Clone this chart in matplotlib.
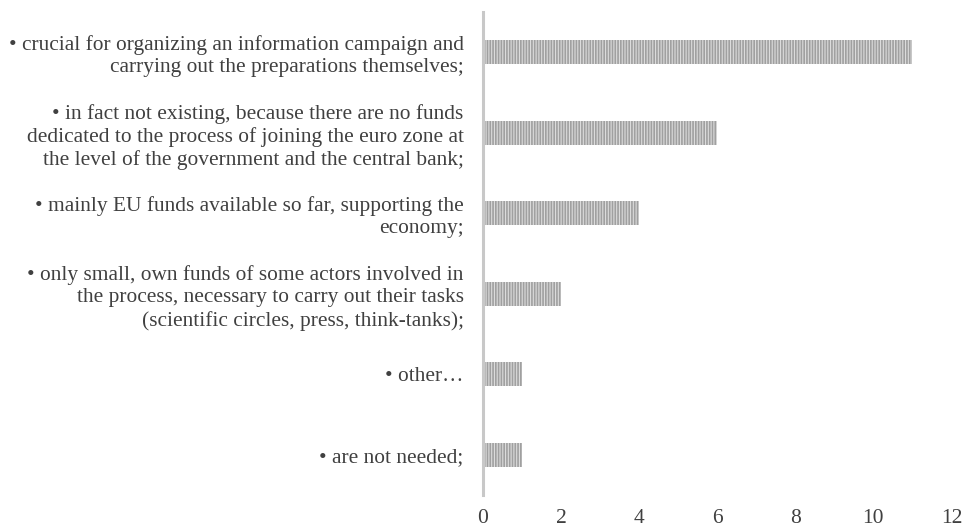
import matplotlib
matplotlib.use('Agg')
import matplotlib.pyplot as plt
import numpy as np

# answers, listed top to bottom as in the chart
categories = [
    '• crucial for organizing an information campaign and\ncarrying out the preparations themselves;',
    '• in fact not existing, because there are no funds\ndedicated to the process of joining the euro zone at\nthe level of the government and the central bank;',
    '• mainly EU funds available so far, supporting the\neconomy;',
    '• only small, own funds of some actors involved in\nthe process, necessary to carry out their tasks\n(scientific circles, press, think-tanks);',
    '• other…',
    '• are not needed;',
]
counts = [11, 6, 4, 2, 1, 1]
xticks = [0, 2, 4, 6, 8, 10, 12]

plt.rcParams['font.family'] = ['Liberation Serif', 'DejaVu Serif']
plt.rcParams['hatch.linewidth'] = 1.2
plt.rcParams['hatch.color'] = '#a0a0a0'

fig = plt.figure(figsize=(9.63, 5.29), dpi=100)
ax = fig.add_axes([0.5016, 0.0643, 0.988 - 0.5016, 0.977 - 0.0643])

y = np.arange(len(categories))
ax.barh(y, counts, height=0.3, color='#dcdcdc', hatch='||||||',
        edgecolor='#a0a0a0', linewidth=0)

ax.set_ylim(len(categories) - 0.5, -0.5)
ax.set_xlim(0, 12)
ax.set_xticks(xticks)
ax.set_xticklabels([str(t) for t in xticks], fontsize=15.5, color='#404040')
ax.set_yticks(y)
ax.set_yticklabels(categories, fontsize=15.4, color='#404040',
                   linespacing=1.22, ha='right')
ax.tick_params(axis='y', length=0, pad=14)
ax.tick_params(axis='x', length=0, pad=10)

for s in ['top', 'right', 'bottom']:
    ax.spines[s].set_visible(False)
ax.spines['left'].set_color('#c8c8c8')
ax.spines['left'].set_linewidth(2.2)

fig.savefig('out.png', dpi=100)
